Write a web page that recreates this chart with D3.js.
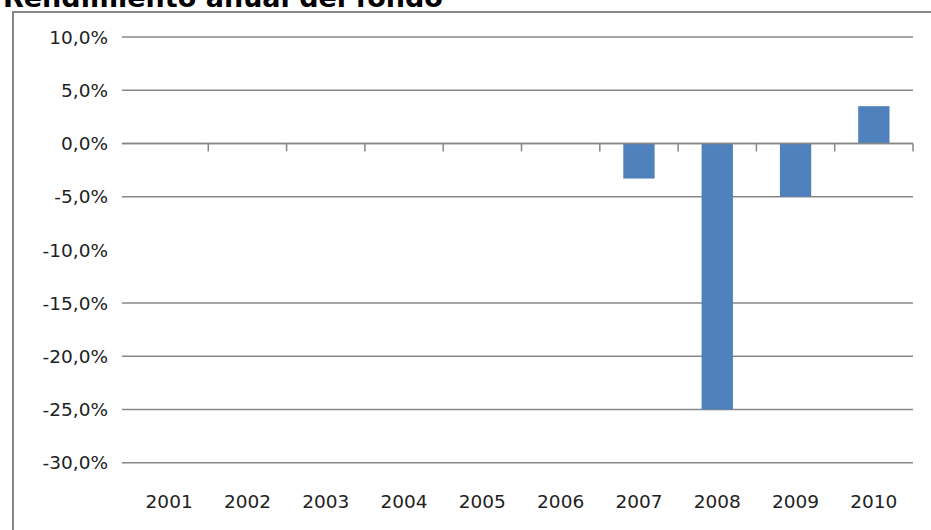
<!DOCTYPE html>
<html><head><meta charset="utf-8">
<script src="https://cdn.jsdelivr.net/npm/d3@7"></script>
<style>body{margin:0;background:#fff;overflow:hidden}svg{display:block}</style>
</head><body>
<svg id="c" width="931" height="530"></svg>
<script>
const title = "Rendimiento anual del fondo";
const years = ["2001","2002","2003","2004","2005","2006","2007","2008","2009","2010"];
const returns = [null,null,null,null,null,null,-3.3,-25.0,-5.0,3.5];
const yTicks = [10,5,0,-5,-10,-15,-20,-25,-30];
const gridTicks = [10,5,0,-5,-15,-20,-25,-30];

const svg = d3.select("#c");
const L = 130, R = 913, T = 37, B = 462.7;
const grey = "#878787";
const font = "DejaVu Sans, Verdana, sans-serif";

// frame
svg.append("rect").attr("x",13).attr("y",12).attr("width",1000).attr("height",600)
  .attr("fill","#fff").attr("stroke",grey).attr("stroke-width",2);

// title
const t = svg.append("text").attr("x",3).attr("y",7).text(title)
  .attr("font-family",font).attr("font-weight","bold")
  .attr("font-size",21).attr("fill","#000");
const w = t.node().getComputedTextLength();
t.attr("font-size", 21*440/w);

const x = d3.scaleBand().domain(years).range([L,R]).paddingInner(0.6).paddingOuter(0.3);
const y = d3.scaleLinear().domain([-30,10]).range([B,T]);
const step = x.step();

// gridlines
svg.append("g").selectAll("line").data(gridTicks).join("line")
  .attr("x1",L-8).attr("x2",R).attr("y1",d=>y(d)).attr("y2",d=>y(d))
  .attr("stroke",grey).attr("stroke-width",1.5);

// y labels
svg.append("g").selectAll("text").data(yTicks).join("text")
  .attr("x",108).attr("y",d=>y(d)).attr("dy","0.36em").attr("text-anchor","end")
  .attr("font-family",font).attr("font-size",18.5)
  .attr("fill","#222")
  .text(d=>(d<0?"-":"")+Math.abs(d).toFixed(1).replace(".",",")+"%");

// bars
svg.append("g").selectAll("rect").data(years.map((c,i)=>({c,v:returns[i]})).filter(d=>d.v!==null)).join("rect")
  .attr("x",d=>x(d.c)).attr("width",x.bandwidth())
  .attr("y",d=>y(Math.max(0,d.v))).attr("height",d=>Math.abs(y(d.v)-y(0)))
  .attr("fill","#4F81BD");

// zero axis line & ticks
svg.append("line").attr("x1",L-8).attr("x2",R).attr("y1",y(0)).attr("y2",y(0))
  .attr("stroke",grey).attr("stroke-width",1.5);
svg.append("g").selectAll("line").data(years).join("line")
  .attr("x1",d=>x(d)-x.paddingOuter()*step+step).attr("x2",d=>x(d)-x.paddingOuter()*step+step)
  .attr("y1",y(0)).attr("y2",y(0)+8).attr("stroke",grey).attr("stroke-width",1.5);

// x labels
svg.append("g").selectAll("text").data(years).join("text")
  .attr("x",d=>x(d)+x.bandwidth()/2).attr("y",508).attr("text-anchor","middle")
  .attr("font-family",font).attr("font-size",18.5)
  .attr("fill","#222").text(d=>d);
</script>
</body></html>
